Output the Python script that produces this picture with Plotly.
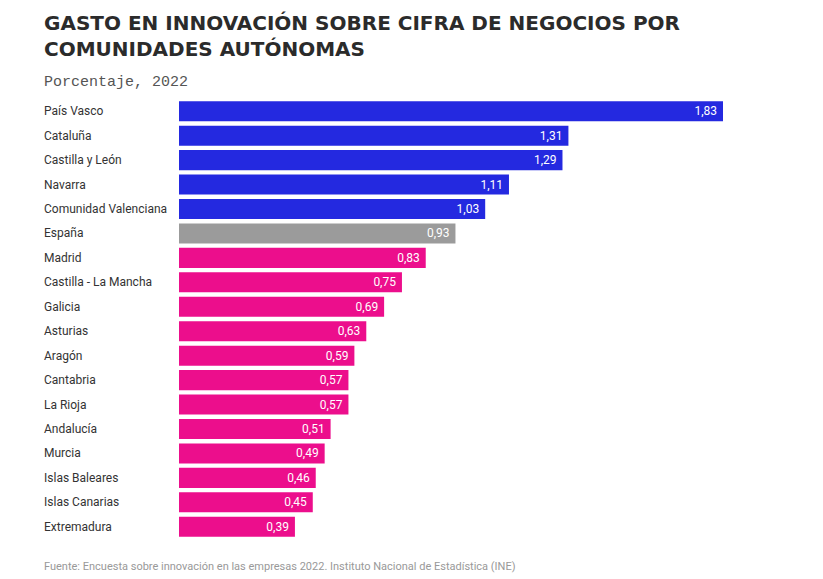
import plotly.graph_objects as go

regions = ["País Vasco", "Cataluña", "Castilla y León", "Navarra", "Comunidad Valenciana",
           "España", "Madrid", "Castilla - La Mancha", "Galicia", "Asturias", "Aragón",
           "Cantabria", "La Rioja", "Andalucía", "Murcia", "Islas Baleares", "Islas Canarias",
           "Extremadura"]
values = [1.83, 1.31, 1.29, 1.11, 1.03, 0.93, 0.83, 0.75, 0.69, 0.63, 0.59, 0.57, 0.57,
          0.51, 0.49, 0.46, 0.45, 0.39]
groups = ["top"] * 5 + ["spain"] + ["rest"] * 12

palette = {"top": "#2429E0", "spain": "#9B9B9B", "rest": "#EC0E8C"}
colors = [palette[g] for g in groups]
texts = [f"{v:.2f}".replace(".", ",") + " " for v in values]

W, H = 823, 579
OFF = 8  # page body offset
L, R, T, B = 179 - OFF, 100 + OFF, 99 - OFF, 40 + OFF

fig = go.Figure(go.Bar(
    x=values, y=regions, orientation="h",
    marker=dict(color=colors, line=dict(width=0)),
    text=texts, textposition="inside", insidetextanchor="end",
    textfont=dict(family="Roboto", size=12, color="white"),
    cliponaxis=False, hoverinfo="skip",
))

fig.update_layout(
    width=W, height=H,
    margin=dict(l=L, r=R, t=T, b=B, autoexpand=False),
    paper_bgcolor="white", plot_bgcolor="white",
    bargap=0.18, showlegend=False,
    uniformtext=dict(mode="show", minsize=12),
    xaxis=dict(range=[0, max(values)], visible=False, fixedrange=True),
    yaxis=dict(autorange="reversed", showticklabels=False, showgrid=False,
               zeroline=False, showline=False, fixedrange=True),
)

pw = W - L - R
ph = H - T - B
X0 = (42 - OFF - L) / pw

def py(y):
    return (H - B - (y - OFF)) / ph

for r in regions:
    fig.add_annotation(x=X0, xref="paper", y=r, yref="y",
                       text=r, showarrow=False, xanchor="left", yanchor="middle",
                       font=dict(family="Roboto", size=12, color="#333333"))

fig.add_annotation(x=X0, xref="paper", y=py(9), yref="paper",
                   text="<b>GASTO EN INNOVACIÓN SOBRE CIFRA DE NEGOCIOS POR<br>COMUNIDADES AUTÓNOMAS</b>",
                   showarrow=False, xanchor="left", yanchor="top", align="left",
                   font=dict(family="DejaVu Sans", size=20, color="#2B2B2B"))
fig.add_annotation(x=X0, xref="paper", y=py(82), yref="paper",
                   text="Porcentaje, 2022", showarrow=False, xanchor="left", yanchor="middle",
                   font=dict(family="Liberation Mono", size=15, color="#555555"))
fig.add_annotation(x=X0, xref="paper", y=py(566), yref="paper",
                   text="Fuente: Encuesta sobre innovación en las empresas 2022. Instituto Nacional de Estadística (INE)",
                   showarrow=False, xanchor="left", yanchor="middle",
                   font=dict(family="Roboto", size=11, color="#999999"))

fig.write_html("out.html")
